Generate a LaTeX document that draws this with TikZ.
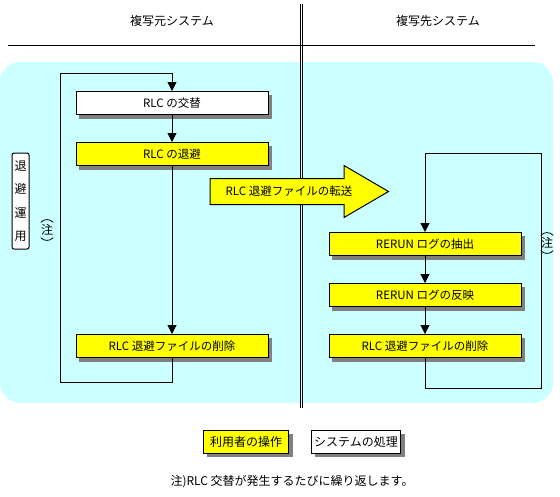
\documentclass[tikz,border=0pt]{standalone}
\usepackage{fontspec}
\setmainfont{Noto Sans CJK JP}
\usetikzlibrary{arrows.meta, calc, positioning}
\pgfdeclarelayer{backdrop}
\pgfdeclarelayer{background}
\pgfsetlayers{backdrop, background, main}
\definecolor{bgCyan}{HTML}{CCFFFF}
\definecolor{opYellow}{HTML}{FFFF00}
\definecolor{shadowGray}{HTML}{808080}
\newcommand{\boxfont}{\fontsize{11.5}{13}\selectfont}
\newcommand{\bigfont}{\fontsize{12}{14}\selectfont}
\tikzset{
    userStep/.style={rectangle, draw, fill=opYellow, line width=1pt, minimum width=192pt, minimum height=23pt, inner sep=0pt, font=\boxfont},
    sysStep/.style={userStep, fill=white},
    legendBox/.style={userStep, minimum height=22.5pt, font=\bigfont},
    modeBox/.style={rectangle, draw, fill=white, line width=1pt, rounded corners=2pt, align=center, inner xsep=2.5pt, minimum height=96pt, font={\fontsize{12}{23.5}\selectfont}},
    noteMark/.style={inner sep=2pt, font=\bigfont},
    flowEdge/.style={-{Triangle[length=9pt, width=9pt]}, line width=1pt},
    plainLine/.style={line width=1pt},
    xferArrow/.style={draw, fill=opYellow, line width=1pt},
}
\newcommand{\drawStep}[2]{
    \draw[flowEdge] (#1) -- (#2);
}
\newcommand{\noteArcs}[1]{
    \draw[line width=0.8pt] ([xshift=2pt]#1.north west) to[bend left=50] ([xshift=-2pt]#1.north east);
    \draw[line width=0.8pt] ([xshift=2pt]#1.south west) to[bend right=50] ([xshift=-2pt]#1.south east);
}

\begin{document}
\begin{tikzpicture}[x=1pt, y=-1pt]
    \useasboundingbox (0, 0) rectangle (560, 496);

    \begin{pgfonlayer}{backdrop}
        \fill[bgCyan, rounded corners=20pt] (0, 62) rectangle (553, 403);
    \end{pgfonlayer}
    \draw[plainLine] (8, 45) -- (535, 45);
    \draw[plainLine] (300.7, 4) -- (300.7, 408);
    \draw[plainLine] (302.7, 4) -- (302.7, 408);

    \node[font=\bigfont] (srcHead) at (172, 21) {複写元システム};
    \node[font=\bigfont] (dstHead) at (438, 21) {複写先システム};

    \node[sysStep] (swap) at (172, 103) {RLC の交替};
    \node[userStep] (evac) at (172, 154) {RLC の退避};
    \node[userStep] (delL) at (172, 346) {RLC 退避ファイルの削除};

    \node[userStep] (extract) at (425, 244) {RERUN ログの抽出};
    \node[userStep] (apply) at (425, 295) {RERUN ログの反映};
    \node[userStep] (delR) at (425, 346) {RLC 退避ファイルの削除};

    \drawStep{swap.south}{evac.north}
    \drawStep{evac.south}{delL.north}
    \drawStep{extract.south}{apply.north}
    \drawStep{apply.south}{delR.north}

    \coordinate (leftBack) at (60, 382);
    \coordinate (leftTop) at (60, 73);
    \draw[flowEdge] (delL.south) |- (leftBack) -- (leftTop) -| (swap.north);

    \coordinate (rightBack) at (541, 388);
    \coordinate (rightTop) at (541, 153);
    \draw[flowEdge] (delR.south) |- (rightBack) -- (rightTop) -| (extract.north);

    \draw[xferArrow] (210, 178.5) -- (344, 178.5) -- (344, 165.5) -- (388.5, 191.5) -- (344, 217.5) -- (344, 204.5) -- (210, 204.5) -- cycle;
    \node[font=\boxfont] (xfer) at (289, 191.5) {RLC 退避ファイルの転送};

    \node[modeBox] (mode) at (20.5, 201) {退\\避\\運\\用};
    \node[noteMark] (noteL) at (47, 230) {注};
    \noteArcs{noteL}
    \node[noteMark] (noteR) at (547, 243) {注};
    \noteArcs{noteR}

    \node[legendBox, minimum width=85pt] (userKey) at (246, 442) {利用者の操作};
    \node[legendBox, fill=white, minimum width=89pt] (sysKey) at (356, 442) {システムの処理};

    \node[font=\bigfont] (footnote) at (292, 481.5) {注)RLC 交替が発生するたびに繰り返します。};

    \begin{pgfonlayer}{background}
        \foreach \n in {swap, evac, delL, extract, apply, delR, userKey, sysKey}
            \fill[shadowGray] ([shift={(3.5pt,-3.5pt)}]\n.south west) rectangle ([shift={(3.5pt,-3.5pt)}]\n.north east);
    \end{pgfonlayer}

\end{tikzpicture}
\end{document}
